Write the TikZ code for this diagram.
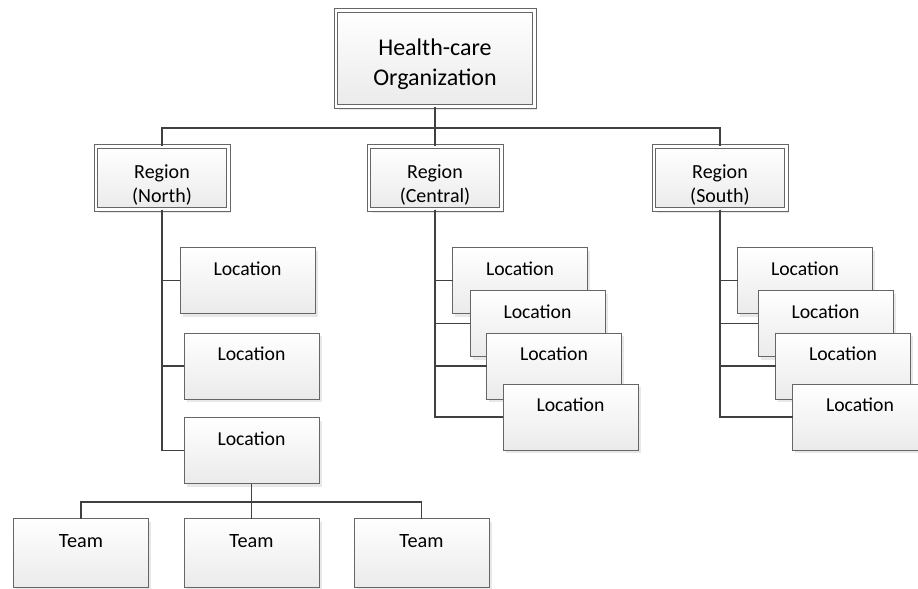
\documentclass[tikz,border=0pt]{standalone}
\usepackage{fontspec}
\setmainfont{Carlito}
\usetikzlibrary{shadows}

\newcommand{\stackedlabel}[2]{\begin{tabular}[b]{@{}c@{}}#1\\#2\end{tabular}}

\begin{document}
\begin{tikzpicture}[
  x=0.75pt,y=-0.75pt,
  unit/.style={draw=black!60,line width=0.75pt,top color=white,bottom color=black!8,inner sep=0pt,outer sep=0pt,
    drop shadow={shadow xshift=2pt,shadow yshift=-2.5pt,fill=black!15,opacity=0.6}},
  headbox/.style={unit,double=white,double distance=2pt,minimum width=148.75pt,minimum height=72.25pt,
    text height=42pt,text depth=2.2pt,font=\fontsize{18}{22.5}\selectfont},
  regionbox/.style={unit,double=white,double distance=2pt,minimum width=99.25pt,minimum height=47.5pt,
    text height=38.5pt,text depth=2pt,font=\fontsize{15}{17.6}\selectfont},
  locbox/.style={unit,minimum width=101.25pt,minimum height=49.5pt,text height=10pt,text depth=18.2pt,
    font=\fontsize{14.8}{17}\selectfont},
  teambox/.style={locbox,minimum height=51.75pt,text depth=18.6pt,font=\fontsize{15.2}{17}\selectfont},
  link/.style={draw=black!75,line width=1.1pt}
]
\useasboundingbox (0,0) rectangle (918,589);

\node[headbox] (org) at (435,58.5) {\stackedlabel{Health-care}{Organization}};

\node[regionbox] (north) at (162,178) {\stackedlabel{Region}{(North)}};
\node[regionbox] (central) at (435,178) {\stackedlabel{Region}{(Central)}};
\node[regionbox] (south) at (720,178) {\stackedlabel{Region}{(South)}};

\node[locbox] (nloc1) at (247.5,280.5) {Location};
\node[locbox] (nloc2) at (251.5,366) {Location};
\node[locbox] (nloc3) at (251.5,450.5) {Location};

\node[locbox] (cloc1) at (520,280.5) {Location};
\node[locbox] (cloc2) at (537.5,323.5) {Location};
\node[locbox] (cloc3) at (554,366) {Location};
\node[locbox] (cloc4) at (570.5,417) {Location};

\node[locbox] (sloc1) at (805,280.5) {Location};
\node[locbox] (sloc2) at (825.5,323.5) {Location};
\node[locbox] (sloc3) at (843,366) {Location};
\node[locbox] (sloc4) at (860,417) {Location};

\node[teambox] (team1) at (81,553) {Team};
\node[teambox] (team2) at (251.5,553) {Team};
\node[teambox] (team3) at (421.5,553) {Team};

\coordinate (orgbus) at (435,128);
\draw[link] (org.south) -- (orgbus) -| (north.north);
\draw[link] (orgbus) -- (central.north);
\draw[link] (orgbus) -| (south.north);

\foreach \n in {nloc1,nloc2,nloc3} \draw[link] (north.south) |- (\n.west);
\foreach \n in {cloc1,cloc2,cloc3,cloc4} \draw[link] (central.south) |- (\n.west);
\foreach \n in {sloc1,sloc2,sloc3,sloc4} \draw[link] (south.south) |- (\n.west);

\coordinate (teambus) at (251.5,502);
\draw[link] (nloc3.south) -- (teambus) -| (team1.north);
\draw[link] (teambus) -- (team2.north);
\draw[link] (teambus) -| (team3.north);
\end{tikzpicture}
\end{document}
